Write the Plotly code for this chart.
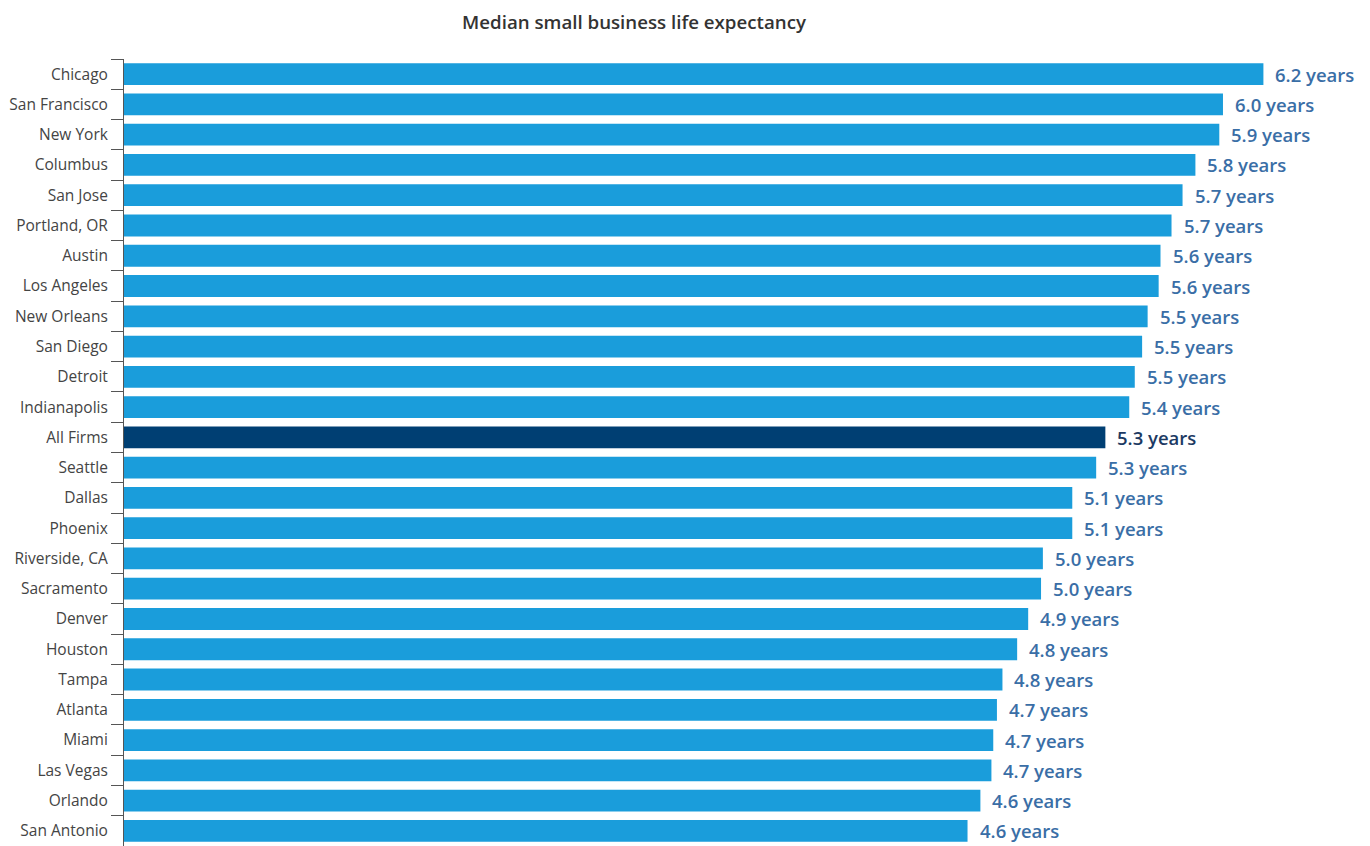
import plotly.graph_objects as go

cities = ["Chicago", "San Francisco", "New York", "Columbus", "San Jose", "Portland, OR",
          "Austin", "Los Angeles", "New Orleans", "San Diego", "Detroit", "Indianapolis",
          "All Firms", "Seattle", "Dallas", "Phoenix", "Riverside, CA", "Sacramento",
          "Denver", "Houston", "Tampa", "Atlanta", "Miami", "Las Vegas", "Orlando", "San Antonio"]
values = [6.20, 5.98, 5.96, 5.83, 5.76, 5.70,
          5.64, 5.63, 5.57, 5.54, 5.50, 5.47,
          5.34, 5.29, 5.16, 5.16, 5.00, 4.99,
          4.92, 4.86, 4.78, 4.75, 4.73, 4.72, 4.66, 4.59]
labels = ["6.2", "6.0", "5.9", "5.8", "5.7", "5.7",
          "5.6", "5.6", "5.5", "5.5", "5.5", "5.4",
          "5.3", "5.3", "5.1", "5.1", "5.0", "5.0",
          "4.9", "4.8", "4.8", "4.7", "4.7", "4.7", "4.6", "4.6"]
highlight = "All Firms"

BAR = "#1a9ddb"
BAR_HI = "#003f73"
TXT = "#3a6ea6"
TXT_HI = "#1c3a63"

colors = [BAR_HI if c == highlight else BAR for c in cities]

fig = go.Figure(go.Bar(
    x=values, y=cities, orientation="h",
    marker=dict(color=colors, line=dict(width=0)),
    hoverinfo="skip",
))

for c, v, l in zip(cities, values, labels):
    fig.add_annotation(
        x=v, y=c, text=f"{l} years", showarrow=False,
        xanchor="left", yanchor="middle", xshift=10,
        font=dict(family="Open Sans", size=18.5, weight=600,
                  color=TXT_HI if c == highlight else TXT),
    )

W, H = 1362, 838
fig.update_layout(
    width=W, height=H,
    margin=dict(l=116, r=0, t=51, b=0, autoexpand=False),
    paper_bgcolor="white", plot_bgcolor="white",
    bargap=0.28,
    showlegend=False,
    title=dict(text="Median small business life expectancy", x=626 / W, xanchor="center",
               xref="container", yref="container",
               y=1 - 14 / H, yanchor="middle",
               font=dict(family="Open Sans", size=18.7, weight=600, color="#333333")),
)
fig.update_xaxes(range=[0, 6.78], visible=False, showgrid=False, zeroline=False,
                 automargin=False)
fig.update_yaxes(
    range=[len(cities) - 0.5, -0.5], automargin=False,
    showline=True, linecolor="#555555", linewidth=1,
    ticks="outside", tickson="boundaries", ticklen=12, tickcolor="#555555",
    ticklabelstandoff=12,
    tickfont=dict(family="Open Sans", size=15.5, color="#444444"),
    showgrid=False, zeroline=False,
)

fig.write_html("out.html")
